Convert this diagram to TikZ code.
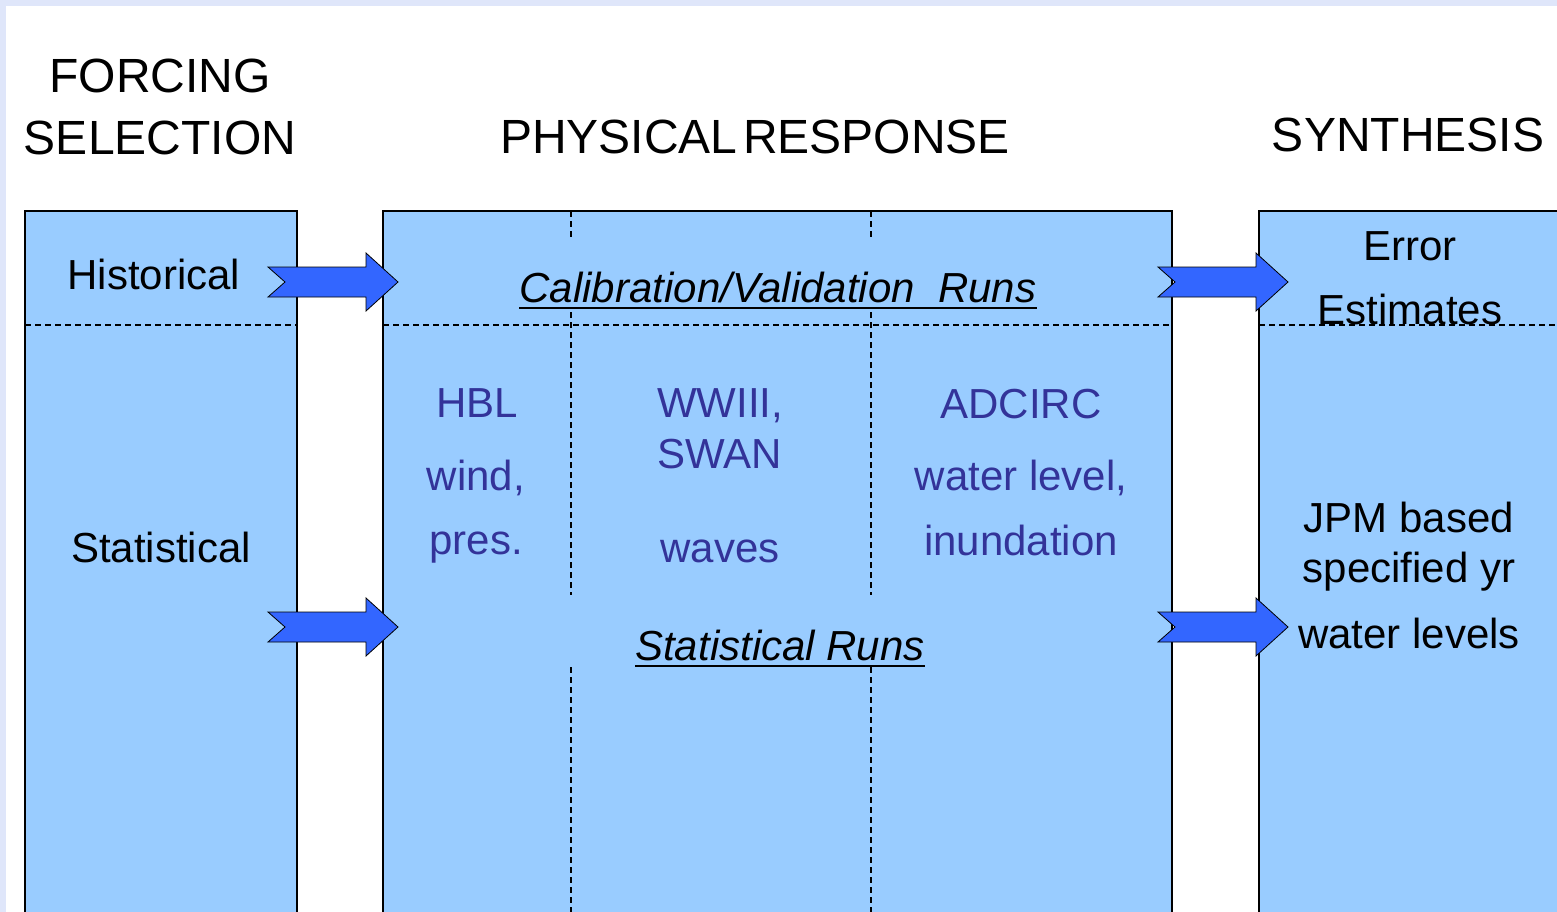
\documentclass[tikz,border=0pt]{standalone}
\usepackage{fontspec}
\setmainfont{Liberation Sans}
\definecolor{bordertint}{RGB}{223,230,250}
\definecolor{boxblue}{RGB}{153,204,255}
\definecolor{arrowblue}{RGB}{51,102,255}
\definecolor{modeltext}{RGB}{51,51,153}
\tikzset{
  panel/.style={draw=black, line width=1.5pt, fill=boxblue, anchor=north west,
    inner sep=0pt, outer sep=0pt, minimum height=720pt},
  sep/.style={black, line width=1.1pt, dash pattern=on 6pt off 4pt},
  title/.style={anchor=base, inner sep=0pt, font=\fontsize{48}{56}\selectfont},
  lbl/.style={anchor=base, inner sep=0pt, font=\fontsize{42}{50}\selectfont},
  model/.style={lbl, text=modeltext},
  runs/.style={anchor=base, inner sep=0pt, font=\fontsize{42}{50}\selectfont\itshape},
  arrowbody/.style={fill=arrowblue, draw=black, line width=0.8pt, line join=miter},
  fatarrow/.pic={\draw[arrowbody] (-130,-15) -- (-32,-15) -- (-32,-29) -- (0,0)
      -- (-32,29) -- (-32,15) -- (-130,15) -- (-113,0) -- cycle;}
}
\begin{document}
\begin{tikzpicture}[x=1pt,y=-1pt]
% page frame
\fill[bordertint] (0,0) rectangle (1557,912);
\fill[white] (6,6) rectangle (1557,912);
\useasboundingbox (0,0) rectangle (1557,912);
\clip (0,0) rectangle (1557,912);

% column headings
\node[title] (forcingA) at (160,93) {FORCING};
\node[title] (forcingB) at (160,155) {SELECTION};
\node[title] (physhead) at (755,154) {PHYSICAL\hspace{0.12em}RESPONSE};
\node[title] (synthead) at (1408,152) {SYNTHESIS};

% panels
\node[panel, minimum width=272pt] (forcing) at (25,211) {};
\node[panel, minimum width=789pt] (physical) at (383,211) {};
\node[panel, minimum width=330pt] (synthesis) at (1259,211) {};

% row separator
\coordinate (rowsep) at (0,325);
\draw[sep] (forcing.west |- rowsep) -- (forcing.east |- rowsep);
\draw[sep] (physical.west |- rowsep) -- (physical.east |- rowsep);
\draw[sep] (synthesis.west |- rowsep) -- (synthesis.east |- rowsep);

% model column separators
\foreach \cx in {571,871}{
  \draw[sep] (\cx,211) -- (\cx,237);
  \draw[sep] (\cx,312) -- (\cx,595);
  \draw[sep] (\cx,667) -- (\cx,912);
}

% forcing labels
\node[lbl] (hist) at (154,289) {Historical};
\node[lbl] (stat) at (161,562) {Statistical};

% model columns
\node[model] (hbl)   at (477,417) {HBL};
\node[model] (wind)  at (476,490) {wind,};
\node[model] (pres)  at (476,554) {pres.};
\node[model] (ww)    at (720,417) {WWIII,};
\node[model] (swan)  at (720,468) {SWAN};
\node[model] (waves) at (720,562) {waves};
\node[model] (adc)   at (1021,418) {ADCIRC};
\node[model] (wl)    at (1021,490) {water level,};
\node[model] (inund) at (1021,555) {inundation};

% run types
\node[runs] (cal) at (778,302) {Calibration/Validation\ \ Runs};
\draw[line width=2pt] ([yshift=-6pt]cal.base west) -- ([yshift=-6pt]cal.base east);
\node[runs] (statruns) at (780,660) {Statistical Runs};
\draw[line width=2pt] ([yshift=-6pt]statruns.base west) -- ([yshift=-6pt]statruns.base east);

% synthesis labels
\node[lbl] (err)  at (1410,260) {Error};
\node[lbl] (est)  at (1410,324) {Estimates};
\node[lbl] (jpm)  at (1409,532) {JPM based};
\node[lbl] (spec) at (1409,582) {specified yr};
\node[lbl] (wlev) at (1409,648) {water levels};

% flow arrows between panels
\pic at (398,282) {fatarrow};
\pic at (398,627) {fatarrow};
\pic at (1288,282) {fatarrow};
\pic at (1288,627) {fatarrow};
\end{tikzpicture}
\end{document}
